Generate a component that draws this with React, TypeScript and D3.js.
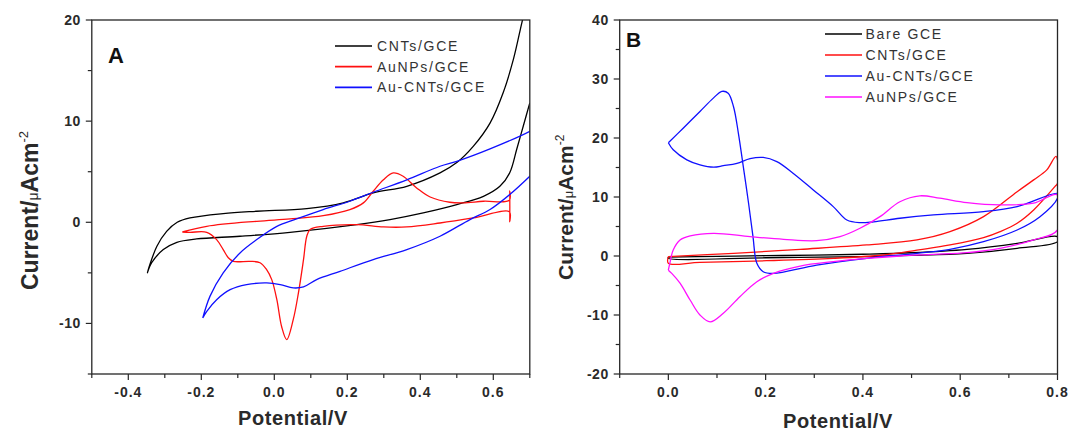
import React from 'react';
import * as d3 from 'd3';

type Pt = [number, number];

// ---------- Panel A data (Potential V, Current µA cm^-2) ----------
const cntsGceA: Pt[] = [
  [0.70, 11.8], [0.682, 9.5], [0.664, 7.2], [0.645, 4.9], [0.618, 3.56], [0.573, 2.57],
  [0.5, 1.75], [0.408, 0.93], [0.317, 0.27], [0.226, -0.23], [0.043, -0.99], [-0.094, -1.38],
  [-0.213, -1.65], [-0.267, -1.98], [-0.304, -2.7], [-0.336, -4.0], [-0.348, -5.0],
  [-0.322, -2.4], [-0.295, -0.9], [-0.266, 0.0], [-0.231, 0.43], [-0.14, 0.86], [-0.048, 1.09],
  [0.089, 1.35], [0.189, 1.92], [0.271, 2.9], [0.363, 3.56], [0.454, 4.88], [0.5, 5.9],
  [0.545, 7.5], [0.591, 9.8], [0.627, 12.8], [0.655, 16.1], [0.678, 19.7], [0.69, 21.5],
];
const auNpsGceA: Pt[] = [
  [-0.252, -0.96], [-0.185, -0.4], [-0.048, 0.1], [0.043, 0.33], [0.134, 0.66], [0.207, 1.26],
  [0.244, 1.92], [0.271, 3.07], [0.299, 4.2], [0.326, 4.88], [0.353, 4.55], [0.39, 3.4],
  [0.427, 2.5], [0.481, 1.98], [0.518, 1.92], [0.573, 2.08], [0.644, 2.18], [0.645, 3.1],
  [0.645, 0.05], [0.644, 1.05], [0.545, 0.43], [0.454, -0.07], [0.363, -0.46], [0.299, -0.46],
  [0.226, -0.23], [0.134, -0.4], [0.098, -0.72], [0.089, -1.38], [0.08, -3.7], [0.066, -7.0],
  [0.052, -9.6], [0.034, -11.6], [0.02, -10.3], [0.007, -7.65], [-0.007, -5.67], [-0.021, -4.68],
  [-0.039, -4.0], [-0.067, -3.86], [-0.112, -3.86], [-0.126, -3.5], [-0.14, -2.7], [-0.158, -1.71],
  [-0.185, -0.99], [-0.231, -0.99], [-0.252, -0.96],
];
const auCntsGceA: Pt[] = [
  [-0.196, -9.46], [-0.176, -7.3], [-0.14, -5.0], [-0.094, -3.03], [-0.048, -1.71], [0.007, -0.4],
  [0.061, 0.33], [0.134, 1.26], [0.207, 2.08], [0.271, 2.97], [0.363, 4.2], [0.454, 5.54],
  [0.5, 6.03], [0.591, 7.26], [0.7, 9.0], [0.74, 9.9], [0.74, 6.0], [0.7, 4.55], [0.645, 2.74],
  [0.591, 1.26], [0.536, 0.27], [0.454, -1.38], [0.363, -2.7], [0.271, -3.69], [0.18, -4.85],
  [0.116, -5.67], [0.08, -6.39], [0.052, -6.49], [0.016, -6.16], [-0.021, -6.0], [-0.076, -6.16],
  [-0.121, -6.66], [-0.158, -7.65], [-0.185, -8.8], [-0.196, -9.46],
];

// ---------- Panel B data ----------
const bareGceB: Pt[] = [
  [0.0, -0.2], [0.1, -0.05], [0.2, 0.05], [0.3, 0.15], [0.4, 0.3], [0.5, 0.55], [0.614, 1.13],
  [0.717, 2.15], [0.8, 3.28], [0.8, 2.43], [0.717, 1.3], [0.614, 0.45], [0.5, 0.1], [0.4, -0.1],
  [0.2, -0.3], [0.0, -0.4], [0.0, -0.2],
];
const cntsGceB: Pt[] = [
  [0.0, -0.1], [0.134, 0.45], [0.271, 1.13], [0.408, 1.87], [0.511, 2.72], [0.579, 4.13],
  [0.648, 6.67], [0.717, 10.9], [0.751, 12.9], [0.778, 14.6], [0.797, 16.9], [0.8, 12.3],
  [0.795, 11.8], [0.751, 7.8], [0.717, 5.55], [0.682, 4.13], [0.648, 3.1], [0.579, 1.87],
  [0.511, 1.0], [0.442, 0.17], [0.339, -0.4], [0.202, -0.8], [0.065, -1.07], [0.0, -1.24], [0.0, -0.1],
];
const auCntsGceB: Pt[] = [
  [0.0, 19.2], [0.031, 21.7], [0.065, 24.5], [0.093, 26.8], [0.11, 27.9], [0.123, 27.6],
  [0.134, 25.3], [0.144, 20.8], [0.154, 15.2], [0.165, 8.9], [0.174, 3.28], [0.182, -1.24],
  [0.195, -2.66], [0.216, -2.94], [0.305, -1.53], [0.408, -0.39], [0.511, 0.46], [0.579, 1.14],
  [0.648, 2.43], [0.717, 4.41], [0.764, 6.67], [0.8, 9.8], [0.8, 10.6], [0.717, 8.37],
  [0.648, 7.52], [0.545, 6.96], [0.476, 6.4], [0.422, 5.8], [0.394, 5.65], [0.367, 6.1],
  [0.339, 8.37], [0.298, 11.2], [0.257, 14.0], [0.223, 16.0], [0.195, 16.7], [0.168, 16.5],
  [0.141, 15.7], [0.113, 15.3], [0.093, 15.06], [0.065, 15.45], [0.038, 16.3], [0.01, 18.0], [0.0, 19.2],
];
const auNpsGceB: Pt[] = [
  [0.0, -2.4], [0.003, -1.24], [0.01, 1.0], [0.024, 2.7], [0.045, 3.4], [0.093, 3.85],
  [0.168, 3.28], [0.237, 2.83], [0.305, 2.6], [0.353, 3.28], [0.394, 4.7], [0.435, 6.67],
  [0.476, 9.2], [0.517, 10.2], [0.558, 9.8], [0.614, 9.05], [0.682, 8.66], [0.751, 8.95],
  [0.8, 10.36], [0.8, 4.41], [0.751, 2.72], [0.682, 1.3], [0.614, 0.57], [0.545, 0.28],
  [0.476, 0.0], [0.408, -0.4], [0.339, -0.96], [0.271, -1.7], [0.216, -2.94], [0.182, -4.36],
  [0.147, -6.9], [0.113, -9.7], [0.086, -11.15], [0.065, -10.0], [0.045, -7.5], [0.024, -4.6],
  [0.007, -2.94], [0.0, -2.4],
];

// ---------- ticks & labels ----------
const xMajorA = [-0.4, -0.2, 0.0, 0.2, 0.4, 0.6];
const xMinorA = [-0.5, -0.3, -0.1, 0.1, 0.3, 0.5, 0.7];
const yMajorA = [-10, 0, 10, 20];
const yMinorA = [-15, -5, 5, 15];
const xMajorB = [0.0, 0.2, 0.4, 0.6, 0.8];
const xMinorB = [-0.1, 0.1, 0.3, 0.5, 0.7];
const yMajorB = [-20, -10, 0, 10, 20, 30, 40];
const yMinorB = [-15, -5, 5, 15, 25, 35];

const legendA = ['CNTs/GCE', 'AuNPs/GCE', 'Au-CNTs/GCE'];
const legendB = ['Bare GCE', 'CNTs/GCE', 'Au-CNTs/GCE', 'AuNPs/GCE'];

const FONT = "'Liberation Sans', Arial, Helvetica, sans-serif";
const BLACK = '#000000';
const RED = '#ff1010';
const BLUE = '#1010ff';
const MAGENTA = '#ff10ff';
const AXIS = '#262626';

interface PanelProps {
  id: string;
  box: { l: number; r: number; t: number; b: number };
  xDomain: [number, number];
  yDomain: [number, number];
  xMajor: number[];
  xMinor: number[];
  yMajor: number[];
  yMinor: number[];
  series: { data: Pt[]; color: string }[];
  legend: { label: string; color: string }[];
  legendPos: { x1: number; x2: number; tx: number; y0: number; dy: number };
  letter: { text: string; x: number; y: number; size: number };
  xLabel: { x: number; y: number };
  yLabel: { x: number; y: number; size: number; small: number };
}

const fmtX = (v: number) => d3.format('.1f')(v).replace('\u2212', '-');

function Panel(p: PanelProps) {
  const xs = d3.scaleLinear().domain(p.xDomain).range([p.box.l, p.box.r]);
  const ys = d3.scaleLinear().domain(p.yDomain).range([p.box.b, p.box.t]);
  const line = d3
    .line<Pt>()
    .x((d) => xs(d[0]))
    .y((d) => ys(d[1]))
    .curve(d3.curveCatmullRom.alpha(0.5));
  const { l, r, t, b } = p.box;
  return (
    <g>
      <defs>
        <clipPath id={`clip-${p.id}`}>
          <rect x={l} y={t} width={r - l} height={b - t} />
        </clipPath>
      </defs>
      <g clipPath={`url(#clip-${p.id})`}>
        {p.series.map((s, i) => (
          <path key={i} d={line(s.data) || ''} fill="none" stroke={s.color} strokeWidth={1.3} strokeLinejoin="round" />
        ))}
      </g>
      <rect x={l} y={t} width={r - l} height={b - t} fill="none" stroke={AXIS} strokeWidth={1.3} />
      {p.xMajor.map((v) => (
        <line key={`xM${v}`} x1={xs(v)} x2={xs(v)} y1={b} y2={b + 6} stroke={AXIS} strokeWidth={1.2} />
      ))}
      {p.xMinor.map((v) => (
        <line key={`xm${v}`} x1={xs(v)} x2={xs(v)} y1={b} y2={b + 4} stroke={AXIS} strokeWidth={1.2} />
      ))}
      {p.yMajor.map((v) => (
        <line key={`yM${v}`} x1={l - 6} x2={l} y1={ys(v)} y2={ys(v)} stroke={AXIS} strokeWidth={1.2} />
      ))}
      {p.yMinor.map((v) => (
        <line key={`ym${v}`} x1={l - 4} x2={l} y1={ys(v)} y2={ys(v)} stroke={AXIS} strokeWidth={1.2} />
      ))}
      {p.xMajor.map((v) => (
        <text key={`xl${v}`} x={xs(v)} y={b + 23} textAnchor="middle" fontFamily={FONT} fontWeight="bold"
          fontSize={14} letterSpacing={1} fill="#2a2a2a">
          {fmtX(v)}
        </text>
      ))}
      {p.yMajor.map((v) => (
        <text key={`yl${v}`} x={l - 11} y={ys(v) + 5} textAnchor="end" fontFamily={FONT} fontWeight="bold"
          fontSize={14} letterSpacing={0.5} fill="#2a2a2a">
          {String(v)}
        </text>
      ))}
      <text x={p.letter.x} y={p.letter.y} fontFamily={FONT} fontWeight="bold" fontSize={p.letter.size} fill="#111">
        {p.letter.text}
      </text>
      {p.legend.map((e, i) => (
        <g key={e.label}>
          <line x1={p.legendPos.x1} x2={p.legendPos.x2} y1={p.legendPos.y0 + i * p.legendPos.dy}
            y2={p.legendPos.y0 + i * p.legendPos.dy} stroke={e.color} strokeWidth={1.7} />
          <text x={p.legendPos.tx} y={p.legendPos.y0 + i * p.legendPos.dy + 5} fontFamily={FONT}
            fontSize={14} letterSpacing={1.7} fill="#333">
            {e.label}
          </text>
        </g>
      ))}
      <text x={p.xLabel.x} y={p.xLabel.y} textAnchor="middle" fontFamily={FONT} fontWeight="bold"
        fontSize={20} letterSpacing={0.6} fill="#2a2a2a">
        Potential/V
      </text>
      <text transform={`translate(${p.yLabel.x},${p.yLabel.y}) rotate(-90)`} fontFamily={FONT}
        fontWeight="bold" fontSize={p.yLabel.size} fill="#2a2a2a">
        <tspan>Current/</tspan>
        <tspan fontSize={p.yLabel.small} fontWeight="normal">μ</tspan>
        <tspan>Acm</tspan>
        <tspan fontSize={p.yLabel.small - 1} fontWeight="normal" dy={-p.yLabel.size * 0.45}>-2</tspan>
      </text>
    </g>
  );
}

export default function App() {
  return (
    <svg width={1076} height={432} style={{ position: 'absolute', left: 0, top: 0, background: '#fff' }}>
      <rect width={1076} height={432} fill="#fff" />
      <Panel
        id="A"
        box={{ l: 91.8, r: 529.8, t: 20, b: 374 }}
        xDomain={[-0.5, 0.7]}
        yDomain={[-15, 20]}
        xMajor={xMajorA}
        xMinor={xMinorA}
        yMajor={yMajorA}
        yMinor={yMinorA}
        series={[
          { data: cntsGceA, color: BLACK },
          { data: auNpsGceA, color: RED },
          { data: auCntsGceA, color: BLUE },
        ]}
        legend={[
          { label: legendA[0], color: BLACK },
          { label: legendA[1], color: RED },
          { label: legendA[2], color: BLUE },
        ]}
        legendPos={{ x1: 335, x2: 372, tx: 377, y0: 46, dy: 20.7 }}
        letter={{ text: 'A', x: 108, y: 63, size: 22 }}
        xLabel={{ x: 293, y: 425 }}
        yLabel={{ x: 38, y: 290, size: 23, small: 14 }}
      />
      <Panel
        id="B"
        box={{ l: 619.7, r: 1057.5, t: 20, b: 374 }}
        xDomain={[-0.1, 0.8]}
        yDomain={[-20, 40]}
        xMajor={xMajorB}
        xMinor={xMinorB}
        yMajor={yMajorB}
        yMinor={yMinorB}
        series={[
          { data: bareGceB, color: BLACK },
          { data: cntsGceB, color: RED },
          { data: auCntsGceB, color: BLUE },
          { data: auNpsGceB, color: MAGENTA },
        ]}
        legend={[
          { label: legendB[0], color: BLACK },
          { label: legendB[1], color: RED },
          { label: legendB[2], color: BLUE },
          { label: legendB[3], color: MAGENTA },
        ]}
        legendPos={{ x1: 825, x2: 862, tx: 865.5, y0: 34, dy: 21 }}
        letter={{ text: 'B', x: 626, y: 47, size: 21 }}
        xLabel={{ x: 838, y: 428 }}
        yLabel={{ x: 573, y: 280, size: 21, small: 13 }}
      />
    </svg>
  );
}
